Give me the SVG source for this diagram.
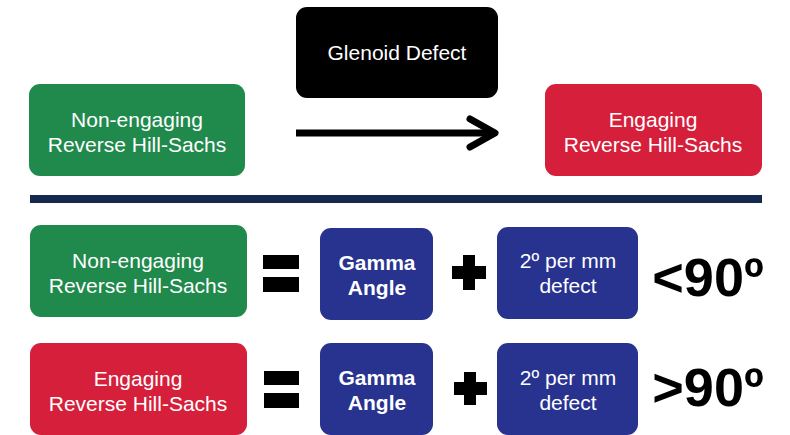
<svg xmlns="http://www.w3.org/2000/svg" width="790" height="435" viewBox="0 0 790 435">
<style>
.t{font-family:"Liberation Sans",Arial,sans-serif;fill:#ffffff;text-anchor:middle}
.r{font-size:21px}
.b{font-size:21px;font-weight:bold}
.big{font-family:"Liberation Sans",Arial,sans-serif;font-weight:bold;font-size:54px;fill:#000;text-anchor:middle}
.green{fill:#1f8a4c}
.red{fill:#d51f3b}
.blue{fill:#27338f}
.sym{fill:#000}
</style>
<rect width="790" height="435" fill="#ffffff"/>
<g id="glenoid">
<rect x="296" y="7" width="202" height="91" rx="11" fill="#000"/>
<text class="t r" x="397" y="60">Glenoid Defect</text>
</g>
<g id="nonengaging-top">
<rect class="green" x="29" y="84" width="216" height="92" rx="11"/>
<text class="t r" x="137" y="127">Non-engaging</text>
<text class="t r" x="137" y="152">Reverse Hill-Sachs</text>
</g>
<g id="engaging-top">
<rect class="red" x="545" y="84" width="217" height="92" rx="11"/>
<text class="t r" x="653" y="127">Engaging</text>
<text class="t r" x="653" y="152">Reverse Hill-Sachs</text>
</g>
<g id="connectors">
<line x1="296" y1="133" x2="492" y2="133" stroke="#000" stroke-width="7"/>
<polyline points="470,119 495,133 470,147" fill="none" stroke="#000" stroke-width="7" stroke-linecap="round" stroke-linejoin="round"/>
</g>
<g id="divider">
<rect x="30" y="195" width="732" height="8" fill="#15294f"/>
</g>
<g id="nonengaging-bottom">
<rect class="green" x="30" y="225" width="217" height="92" rx="11"/>
<text class="t r" x="138" y="268">Non-engaging</text>
<text class="t r" x="138" y="293">Reverse Hill-Sachs</text>
</g>
<g id="equals1">
<rect class="sym" x="263" y="255" width="36" height="14"/>
<rect class="sym" x="263" y="277" width="36" height="15"/>
</g>
<g id="gamma1">
<rect class="blue" x="320" y="228" width="113" height="92" rx="11"/>
<text class="t b" x="377" y="270">Gamma</text>
<text class="t b" x="377" y="295">Angle</text>
</g>
<g id="plus1">
<rect class="sym" x="452" y="266" width="34" height="13"/>
<rect class="sym" x="463" y="255" width="12" height="35"/>
</g>
<g id="defect1">
<rect class="blue" x="497" y="227" width="141" height="92" rx="11"/>
<text class="t r" x="568" y="268">2º per mm</text>
<text class="t r" x="568" y="293">defect</text>
</g>
<g id="lt90">
<text class="big" x="708" y="296">&lt;90º</text>
</g>
<g id="engaging-bottom">
<rect class="red" x="30" y="343" width="217" height="92" rx="11"/>
<text class="t r" x="138" y="386">Engaging</text>
<text class="t r" x="138" y="411">Reverse Hill-Sachs</text>
</g>
<g id="equals2">
<rect class="sym" x="264" y="371" width="35" height="14"/>
<rect class="sym" x="264" y="393" width="35" height="15"/>
</g>
<g id="gamma2">
<rect class="blue" x="320" y="343" width="113" height="92" rx="11"/>
<text class="t b" x="377" y="385">Gamma</text>
<text class="t b" x="377" y="410">Angle</text>
</g>
<g id="plus2">
<rect class="sym" x="454" y="382" width="33" height="13"/>
<rect class="sym" x="464" y="372" width="12" height="33"/>
</g>
<g id="defect2">
<rect class="blue" x="497" y="343" width="141" height="92" rx="11"/>
<text class="t r" x="568" y="385">2º per mm</text>
<text class="t r" x="568" y="410">defect</text>
</g>
<g id="gt90">
<text class="big" x="708" y="406">&gt;90º</text>
</g>
</svg>
